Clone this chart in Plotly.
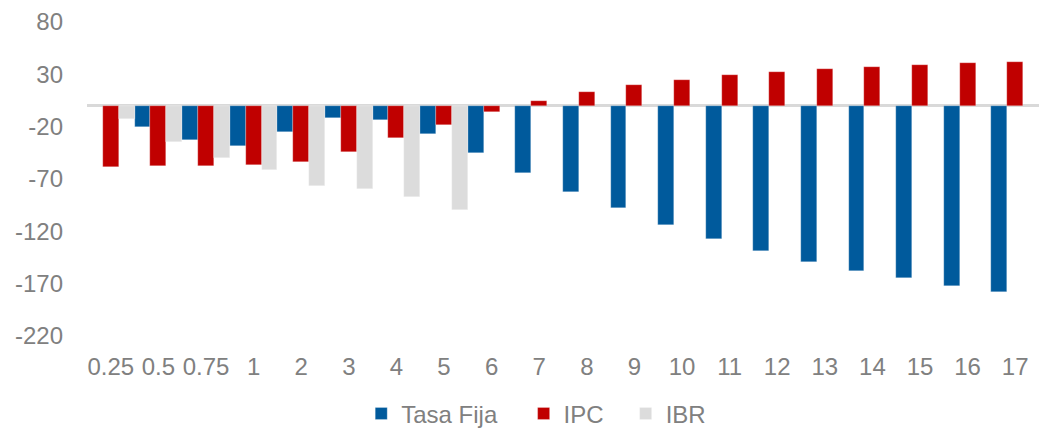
import plotly.graph_objects as go

categories = ["0.25", "0.5", "0.75", "1", "2", "3", "4", "5", "6", "7", "8", "9",
              "10", "11", "12", "13", "14", "15", "16", "17"]
tasa_fija = [None, -20, -33, -38, -25, -12, -14, -27, -45, -64, -82, -98,
             -114, -127, -139, -149, -158, -165, -172, -178]
ipc = [-59, -58, -58, -57, -54, -44, -31, -18, -6, 5, 13, 20,
       25, 29, 32, 35, 37, 39, 41, 42]
ibr = [-13, -35, -50, -61, -77, -80, -87, -100, None, None, None, None,
       None, None, None, None, None, None, None, None]
y_ticks = [80, 30, -20, -70, -120, -170, -220]
y_ticktext = ["80", "30", "-20", "-70", "-120", "-170", "-220"]

FONT = "Liberation Sans, Arial, sans-serif"
GRAY = "#808080"
FS = 24

series = [("Tasa Fija", tasa_fija, "#005A9C", "legend", 0.347),
          ("IPC", ipc, "#C00000", "legend2", 0.503),
          ("IBR", ibr, "#DCDCDC", "legend3", 0.601)]

fig = go.Figure()
legends = {}
for name, vals, color, leg, lx in series:
    fig.add_trace(go.Bar(
        x=categories, y=vals, name=name, legend=leg,
        marker=dict(color=color, line=dict(color="rgba(255,255,255,0.5)", width=0.5)),
    ))
    legends[leg] = dict(orientation="h", xref="container", yref="container",
                        xanchor="left", yanchor="middle", x=lx, y=0.033,
                        font=dict(family=FONT, size=FS, color=GRAY),
                        bgcolor="rgba(0,0,0,0)", itemwidth=30)

fig.update_layout(
    width=1041, height=428,
    margin=dict(l=87, r=2, t=22, b=92),
    paper_bgcolor="white", plot_bgcolor="white",
    barmode="group", bargap=0, bargroupgap=0,
    font=dict(family=FONT, size=FS, color=GRAY),
    showlegend=True,
    **legends,
)
fig.update_xaxes(type="category", showgrid=False, showline=False, ticks="",
                 automargin=False,
                 tickfont=dict(size=FS, color=GRAY), ticklabelstandoff=14)
fig.update_yaxes(range=[-220, 80], tickvals=y_ticks, ticktext=y_ticktext,
                 showgrid=False, showline=False, automargin=False,
                 zeroline=True, zerolinecolor="#D9D9D9", zerolinewidth=2.5,
                 ticks="", tickfont=dict(size=FS, color=GRAY), ticklabelstandoff=23)

fig.write_html("out.html",
               config={"displayModeBar": False},
               post_script="document.body.style.margin='0';document.body.style.overflow='hidden';")
